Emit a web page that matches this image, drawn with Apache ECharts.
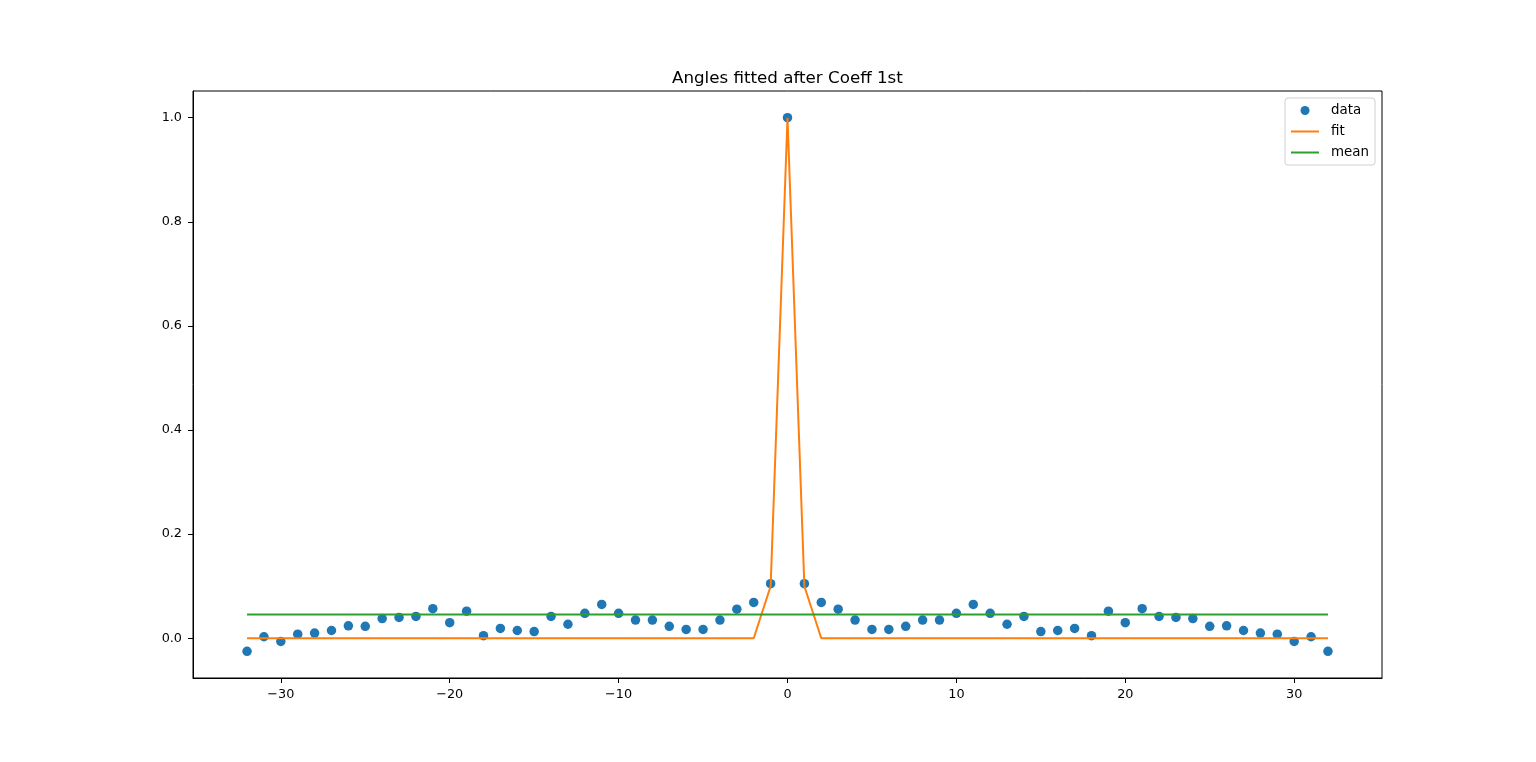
<!DOCTYPE html>
<html>
<head>
<meta charset="utf-8">
<script src="https://cdn.jsdelivr.net/npm/echarts@6/dist/echarts.min.js"></script>
<style>
    html, body { margin: 0; padding: 0; background: #fff; }
    #main { width: 1536px; height: 762px; }
</style>
</head>
<body>
<div id="main"></div>
<script>
    // x positions (angle offsets)
    var xVals = [-32, -31, -30, -29, -28, -27, -26, -25, -24, -23, -22, -21, -20, -19, -18, -17,
        -16, -15, -14, -13, -12, -11, -10, -9, -8, -7, -6, -5, -4, -3, -2, -1, 0,
        1, 2, 3, 4, 5, 6, 7, 8, 9, 10, 11, 12, 13, 14, 15, 16,
        17, 18, 19, 20, 21, 22, 23, 24, 25, 26, 27, 28, 29, 30, 31, 32];

    // measured points
    var dataVals = [-0.025, 0.003, -0.006, 0.008, 0.010, 0.015, 0.024, 0.023, 0.038, 0.040, 0.042, 0.057,
        0.030, 0.052, 0.005, 0.019, 0.015, 0.013, 0.042, 0.027, 0.048, 0.065, 0.048, 0.035,
        0.035, 0.023, 0.017, 0.017, 0.035, 0.056, 0.069, 0.105, 1.0,
        0.105, 0.069, 0.056, 0.035, 0.017, 0.017, 0.023, 0.035, 0.035, 0.048, 0.065, 0.048,
        0.027, 0.042, 0.013, 0.015, 0.019, 0.005, 0.052, 0.030, 0.057, 0.042, 0.040, 0.038,
        0.023, 0.024, 0.015, 0.010, 0.008, -0.006, 0.003, -0.025];

    // fitted curve
    var fitVals = [0, 0, 0, 0, 0, 0, 0, 0, 0, 0, 0, 0, 0, 0, 0, 0,
        0, 0, 0, 0, 0, 0, 0, 0, 0, 0, 0, 0, 0, 0, 0, 0.1, 1.0,
        0.1, 0, 0, 0, 0, 0, 0, 0, 0, 0, 0, 0, 0, 0, 0, 0,
        0, 0, 0, 0, 0, 0, 0, 0, 0, 0, 0, 0, 0, 0, 0, 0];

    var meanVal = 0.0457;

    var xTicks = [-30, -20, -10, 0, 10, 20, 30];
    var yTicks = [0.0, 0.2, 0.4, 0.6, 0.8, 1.0];

    var font = 'DejaVu Sans';

    function pairs(xs, ys) {
        var out = [];
        for (var i = 0; i < xs.length; i++) out.push([xs[i], ys[i]]);
        return out;
    }

    var myChart = echarts.init(document.getElementById('main'));
    var option = {
        animation: false,
        backgroundColor: '#fff',
        title: {
            text: 'Angles fitted after Coeff 1st',
            left: 672,
            top: 70,
            padding: 0,
            textStyle: { fontFamily: font, fontSize: 16.7, fontWeight: 'normal', color: '#000' }
        },
        grid: {
            left: 193, right: 154, top: 91, bottom: 84,
            show: true, borderColor: '#000', borderWidth: 1, backgroundColor: 'transparent'
        },
        legend: {
            orient: 'vertical',
            right: 161, top: 98,
            itemWidth: 28, itemHeight: 9, itemGap: 8,
            padding: [6, 6, 6, 5],
            borderColor: '#d0d0d0', borderWidth: 1, borderRadius: 3,
            textStyle: { fontFamily: font, fontSize: 13.4, color: '#000', padding: [0, 0, 0, 7] },
            data: [
                { name: 'data', icon: 'circle' },
                { name: 'fit', itemStyle: { opacity: 0 } },
                { name: 'mean', itemStyle: { opacity: 0 } }
            ]
        },
        xAxis: {
            type: 'value',
            min: -35.2, max: 35.2,
            splitLine: { show: false },
            axisLine: { show: true, onZero: false, lineStyle: { color: '#000' } },
            axisTick: { show: true, length: 5, customValues: xTicks, lineStyle: { color: '#000' } },
            axisLabel: {
                customValues: xTicks, margin: 10,
                fontFamily: font, fontSize: 12.8, color: '#000',
                formatter: function (v) { return v < 0 ? '\u2212' + (-v) : String(v); }
            }
        },
        yAxis: {
            type: 'value',
            min: -0.07625, max: 1.05125,
            splitLine: { show: false },
            axisLine: { show: true, onZero: false, lineStyle: { color: '#000' } },
            axisTick: { show: true, length: 5, customValues: yTicks, lineStyle: { color: '#000' } },
            axisLabel: {
                customValues: yTicks, margin: 11,
                fontFamily: font, fontSize: 12.8, color: '#000',
                formatter: function (v) { return v.toFixed(1); }
            }
        },
        series: [
            {
                name: 'data', type: 'scatter',
                symbol: 'circle', symbolSize: 9.5,
                itemStyle: { color: '#1f77b4', opacity: 1 },
                data: pairs(xVals, dataVals),
                z: 3
            },
            {
                name: 'fit', type: 'line',
                symbol: 'none', showSymbol: false,
                lineStyle: { color: '#ff7f0e', width: 2 },
                itemStyle: { color: '#ff7f0e' },
                data: pairs(xVals, fitVals),
                z: 4
            },
            {
                name: 'mean', type: 'line',
                symbol: 'none', showSymbol: false,
                lineStyle: { color: '#2ca02c', width: 2 },
                itemStyle: { color: '#2ca02c' },
                data: [[xVals[0], meanVal], [xVals[xVals.length - 1], meanVal]],
                z: 5
            }
        ]
    };
    myChart.setOption(option);
</script>
</body>
</html>
